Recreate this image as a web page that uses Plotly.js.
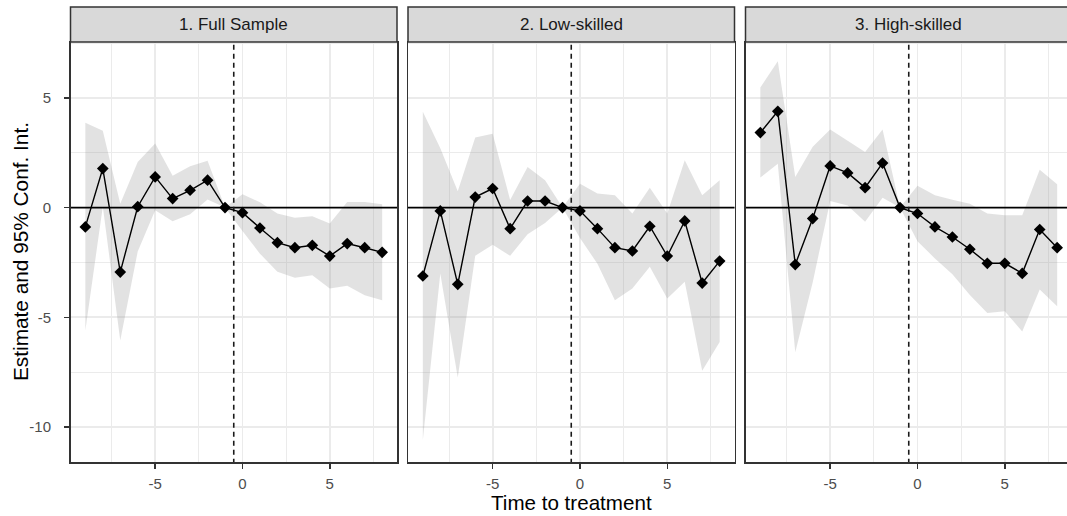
<!DOCTYPE html>
<html><head><meta charset="utf-8">
<script src="https://cdn.plot.ly/plotly-3.0.1.min.js"></script>
<style>html,body{margin:0;padding:0;overflow:hidden;background:#fff;width:1067px;height:516px}#chart{width:1076px;height:516px}</style>
</head><body><div id="chart"></div><script>
// ---- data ----
const time = [-9,-8,-7,-6,-5,-4,-3,-2,-1,0,1,2,3,4,5,6,7,8];
const panelTitles = ["1. Full Sample", "2. Low-skilled", "3. High-skilled"];
const xTickVals = [-5, 0, 5], xTickText = ["-5", "0", "5"];
const yTickVals = [-10, -5, 0, 5], yTickText = ["-10", "-5", "0", "5"];

const est1 = [-0.88, 1.78, -2.94, 0.04, 1.40, 0.41, 0.79, 1.25, 0, -0.23, -0.93, -1.60, -1.83, -1.72, -2.21, -1.64, -1.83, -2.04];
const hi1  = [3.87, 3.50, 0.18, 2.08, 2.92, 1.45, 1.88, 2.13, 0, 0.61, 0.24, -0.27, -0.46, -0.40, -0.73, 0.26, 0.26, 0.15];
const lo1  = [-5.60, 0.05, -6.06, -2.00, -0.12, -0.62, -0.30, 0.37, 0, -1.07, -2.10, -2.93, -3.20, -3.08, -3.69, -3.56, -4.00, -4.23];

const est2 = [-3.12, -0.15, -3.50, 0.48, 0.87, -0.96, 0.30, 0.30, 0, -0.15, -0.96, -1.83, -1.98, -0.85, -2.21, -0.61, -3.44, -2.44];
const hi2  = [4.37, 2.70, 0.75, 3.20, 3.37, 0.35, 1.85, 1.25, 0, 1.09, 0.64, 0.56, -0.27, 0.90, -0.27, 2.16, 0.56, 1.25];
const lo2  = [-10.60, -3.00, -7.75, -2.20, -1.70, -2.20, -1.22, -0.70, 0, -1.39, -2.56, -4.22, -3.69, -2.70, -4.15, -3.38, -7.44, -6.13];

const est3 = [3.42, 4.39, -2.60, -0.50, 1.90, 1.58, 0.91, 2.03, 0, -0.27, -0.88, -1.34, -1.90, -2.54, -2.54, -3.00, -1.00, -1.83];
const hi3  = [5.47, 6.67, 1.40, 2.77, 3.56, 3.07, 2.54, 3.56, 0, 0.99, 0.56, 0.36, 0.18, -0.27, -0.35, -0.35, 1.73, 1.06];
const lo3  = [1.37, 2.00, -6.60, -3.40, 0.30, 0.10, -0.65, 0.45, 0, -1.53, -2.32, -3.04, -3.98, -4.81, -4.73, -5.65, -3.73, -4.50];

const refY = 0;          // horizontal reference line
const treatX = -0.5;     // treatment timing (dashed line)

// ---- layout constants ----
const W = 1076, H = 516;
const M = {l: 70, r: 3, t: 7, b: 54};
const PW = W - M.l - M.r, PH = H - M.t - M.b;
const panelOff = [0.5, 338, 675.5], panelW = 326.5;
const plotH = 420;
const xr = [-9.85, 8.85], yr = [-11.6, 7.55];

const series = [[est1, lo1, hi1], [est2, lo2, hi2], [est3, lo3, hi3]];
const traces = [];
const layout = {
  width: W, height: H, margin: M,
  paper_bgcolor: '#fff', plot_bgcolor: '#fff',
  showlegend: false, hovermode: false,
  font: {family: '"Liberation Sans", Arial, sans-serif', color: '#4D4D4D'},
  shapes: [], annotations: []
};

series.forEach((s, i) => {
  const [est, lo, hi] = s;
  const xa = i === 0 ? 'x' : 'x' + (i + 1);
  const ya = i === 0 ? 'y' : 'y' + (i + 1);
  // ribbon
  traces.push({x: time.concat(time.slice().reverse()), y: hi.concat(lo.slice().reverse()),
    type: 'scatter', mode: 'lines', fill: 'toself', fillcolor: 'rgba(150,150,150,0.28)',
    line: {width: 0, color: 'rgba(0,0,0,0)'}, xaxis: xa, yaxis: ya});
  // reference lines
  traces.push({x: [xr[0] - 5, xr[1] + 5], y: [refY, refY], type: 'scatter', mode: 'lines',
    line: {color: '#000', width: 1.6}, xaxis: xa, yaxis: ya});
  traces.push({x: [treatX, treatX], y: [yr[0] - 5, yr[1] + 5], type: 'scatter', mode: 'lines',
    line: {color: '#1a1a1a', width: 1.6, dash: '5px,4px'}, xaxis: xa, yaxis: ya});
  // estimates
  traces.push({x: time, y: est, type: 'scatter', mode: 'lines+markers',
    line: {color: '#000', width: 1.4},
    marker: {symbol: 'diamond', size: 9, color: '#000'}, xaxis: xa, yaxis: ya});

  const d0 = panelOff[i] / PW, d1 = (panelOff[i] + panelW) / PW;
  const yd1 = plotH / PH;
  const common = {showline: true, mirror: true, linecolor: '#333', linewidth: 1.5,
    zeroline: false, showgrid: true, gridcolor: '#EBEBEB', gridwidth: 1.8,
    ticks: 'outside', ticklen: 5, tickwidth: 1.5, tickcolor: '#333',
    tickfont: {size: 15, color: '#4D4D4D'}, fixedrange: true,
    minor: {tick0: 0, dtick: 2.5, showgrid: true, gridcolor: '#EBEBEB', gridwidth: 1, ticks: ''}};
  layout['xaxis' + (i === 0 ? '' : i + 1)] = Object.assign({}, common, {
    domain: [d0, d1], range: xr, anchor: ya, tickmode: 'array',
    tickvals: xTickVals, ticktext: xTickText, ticklabelstandoff: 2});
  layout['yaxis' + (i === 0 ? '' : i + 1)] = Object.assign({}, common, {
    domain: [0, yd1], range: yr, anchor: xa, tickmode: 'array',
    tickvals: yTickVals, ticktext: yTickText, ticklabelstandoff: 10,
    showticklabels: i === 0, ticks: i === 0 ? 'outside' : ''});

  // strip
  layout.shapes.push({type: 'rect', xref: 'paper', yref: 'paper', x0: d0, x1: d1, y0: yd1, y1: 1,
    fillcolor: '#D9D9D9', line: {color: '#333', width: 1.5}, layer: 'above'});
  layout.annotations.push({xref: 'paper', yref: 'paper', x: (d0 + d1) / 2, y: (yd1 + 1) / 2,
    xanchor: 'center', yanchor: 'middle', showarrow: false, text: panelTitles[i],
    font: {size: 17, color: '#1A1A1A'}});
});

layout.annotations.push({xref: 'paper', yref: 'paper', x: (panelOff[0] + panelOff[2] + panelW) / 2 / PW,
  y: (0 - 41) / PH, xanchor: 'center', yanchor: 'middle', showarrow: false,
  text: 'Time to treatment', font: {size: 20.6, color: '#000'}});
layout.annotations.push({xref: 'paper', yref: 'paper', x: (20 - M.l) / PW, y: (plotH / 2) / PH,
  xanchor: 'center', yanchor: 'middle', textangle: -90, showarrow: false,
  text: 'Estimate and 95% Conf. Int.', font: {size: 20.8, color: '#000'}});

Plotly.newPlot('chart', traces, layout, {staticPlot: true, displayModeBar: false});
</script></body></html>
